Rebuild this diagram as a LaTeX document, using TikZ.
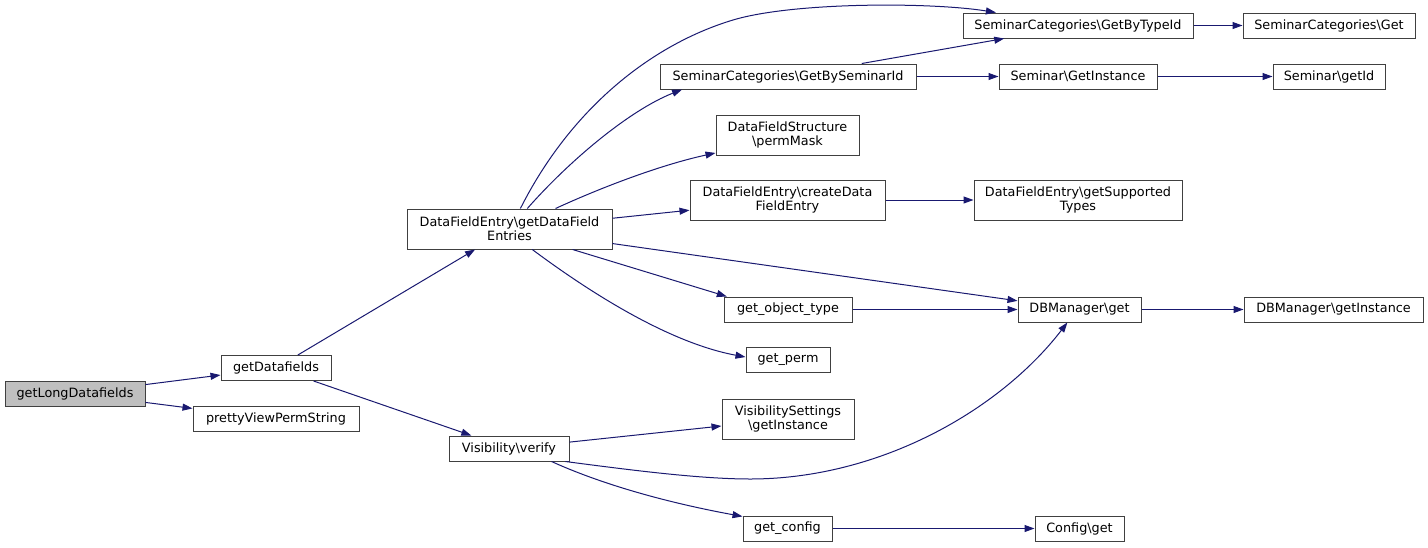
\documentclass[tikz,border=0pt]{standalone}
\usepackage{fontspec}
\setmainfont{DejaVu Sans}
\usepackage{xcolor}
\usepackage{tikz}
\usetikzlibrary{arrows.meta}
\definecolor{edgeblue}{RGB}{25,25,112}
\definecolor{boxgray}{RGB}{64,64,64}
\definecolor{rootgray}{RGB}{191,191,191}
\newcommand{\bkslash}{\textbackslash}

\begin{document}
\begin{tikzpicture}[x=1pt, y=-1pt,
    fn/.style={draw=boxgray, line width=1pt, minimum height=25pt, inner sep=0pt, align=center, font=\fontsize{12.8}{14}\selectfont},
    call/.style={->, draw=edgeblue, line width=1pt},
    >={Triangle[length=10pt, width=7pt]}]
    \useasboundingbox (0,0) rectangle (1428,547);
    \node[fn, fill=rootgray, minimum width=140pt] (longdf) at (75,393.5) {getLongDatafields};
    \node[fn, minimum width=110pt] (getdf) at (276,368) {getDatafields};
    \node[fn, minimum width=166pt] (pretty) at (276,419) {prettyViewPermString};
    \node[fn, minimum width=205pt, minimum height=40pt] (entries) at (509.5,229) {DataFieldEntry\bkslash getDataField\\Entries};
    \node[fn, minimum width=120pt] (verify) at (509,448.5) {Visibility\bkslash verify};
    \node[fn, minimum width=256pt] (bysem) at (788,76.5) {SeminarCategories\bkslash GetBySeminarId};
    \node[fn, minimum width=143pt, minimum height=40pt] (perm) at (787.5,135) {DataFieldStructure\\\bkslash permMask};
    \node[fn, minimum width=195pt, minimum height=40pt] (create) at (787.5,200) {DataFieldEntry\bkslash createData\\FieldEntry};
    \node[fn, minimum width=128pt] (objtype) at (788,309.5) {get\_object\_type};
    \node[fn, minimum width=84pt] (getperm) at (788,360) {get\_perm};
    \node[fn, minimum width=132pt, minimum height=40pt] (vsinst) at (788,419) {VisibilitySettings\\\bkslash getInstance};
    \node[fn, minimum width=89pt] (getcfg) at (787.5,528.5) {get\_config};
    \node[fn, minimum width=230pt] (bytype) at (1078,25.5) {SeminarCategories\bkslash GetByTypeId};
    \node[fn, minimum width=158pt] (seminst) at (1078,76.5) {Seminar\bkslash GetInstance};
    \node[fn, minimum width=208pt, minimum height=40pt] (supp) at (1078,200) {DataFieldEntry\bkslash getSupported\\Types};
    \node[fn, minimum width=123pt] (dbget) at (1079.5,309.5) {DBManager\bkslash get};
    \node[fn, minimum width=89pt] (cfgget) at (1079.5,528.5) {Config\bkslash get};
    \node[fn, minimum width=172pt] (catget) at (1329,25.5) {SeminarCategories\bkslash Get};
    \node[fn, minimum width=112pt] (semid) at (1329,76.5) {Seminar\bkslash getId};
    \node[fn, minimum width=179pt] (dbinst) at (1333.5,309.5) {DBManager\bkslash getInstance};
    \draw[call] (longdf) -- (getdf);
    \draw[call] (longdf) -- (pretty);
    \draw[call] (getdf) -- (entries);
    \draw[call] (getdf) -- (verify);
    \draw[call] (entries.62) .. controls (570,110) and (650,45) .. (733,20) .. controls (793,2) and (930,2) .. (bytype.171);
    \draw[call] (entries.49) .. controls (570,160) and (630,110) .. (bysem.187);
    \draw[call] (entries.24) .. controls (600,188) and (660,165) .. (perm.194);
    \draw[call] (entries) -- (create);
    \draw[call] (entries) -- (dbget);
    \draw[call] (entries.-18) -- (objtype.168);
    \draw[call] (entries.-42) .. controls (592,294) and (670,343) .. (getperm.176);
    \draw[call] (bysem.10) -- (bytype.190);
    \draw[call] (bysem) -- (seminst);
    \draw[call] (bytype) -- (catget);
    \draw[call] (seminst) -- (semid);
    \draw[call] (create) -- (supp);
    \draw[call] (objtype) -- (dbget);
    \draw[call] (dbget) -- (dbinst);
    \draw[call] (verify) -- (vsinst);
    \draw[call] (verify.-13) .. controls (630,470) and (700,479) .. (750,479) .. controls (880,479) and (1000,410) .. (dbget.227);
    \draw[call] (verify.-17) .. controls (610,488) and (680,505) .. (getcfg.165);
    \draw[call] (getcfg) -- (cfgget);
\end{tikzpicture}
\end{document}
